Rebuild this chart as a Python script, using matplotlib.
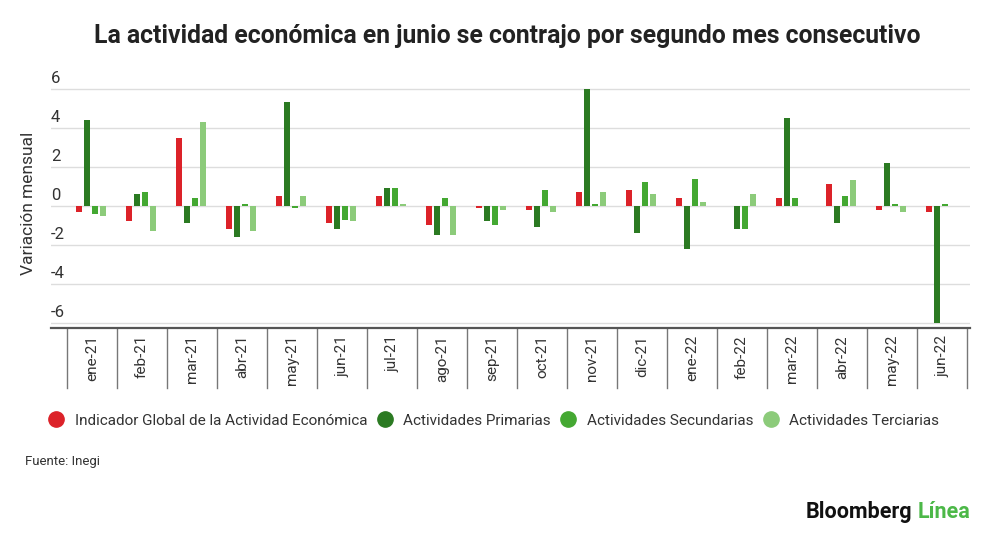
import matplotlib
matplotlib.use("Agg")
import matplotlib.pyplot as plt
import matplotlib.transforms as mtransforms
from matplotlib.lines import Line2D
import numpy as np

plt.rcParams['font.family'] = ['Roboto', 'DejaVu Sans']

months = ["ene-21", "feb-21", "mar-21", "abr-21", "may-21", "jun-21",
          "jul-21", "ago-21", "sep-21", "oct-21", "nov-21", "dic-21",
          "ene-22", "feb-22", "mar-22", "abr-22", "may-22", "jun-22"]

igae = [-0.3, -0.8, 3.5, -1.2, 0.5, -0.9, 0.5, -1.0, -0.1,
        -0.2, 0.7, 0.8, 0.4, 0.0, 0.4, 1.1, -0.2, -0.3]
primarias = [4.4, 0.6, -0.9, -1.6, 5.3, -1.2, 0.9, -1.5, -0.8,
             -1.1, 6.0, -1.4, -2.2, -1.2, 4.5, -0.9, 2.2, -6.0]
secundarias = [-0.4, 0.7, 0.4, 0.1, -0.1, -0.7, 0.9, 0.4, -1.0,
               0.8, 0.1, 1.2, 1.4, -1.2, 0.4, 0.5, 0.1, 0.1]
terciarias = [-0.5, -1.3, 4.3, -1.3, 0.5, -0.8, 0.1, -1.5, -0.2,
              -0.3, 0.7, 0.6, 0.2, 0.6, 0.0, 1.3, -0.3, 0.0]

series_names = ["Indicador Global de la Actividad Económica",
                "Actividades Primarias",
                "Actividades Secundarias",
                "Actividades Terciarias"]
colors = ["#dc2229", "#2b7a22", "#44a832", "#8ccb7a"]
yticks = [-6, -4, -2, 0, 2, 4, 6]

fig = plt.figure(figsize=(10, 5.4), dpi=100)
ax = fig.add_axes([0.051, 0.3926, 0.919, 0.4611])

x = np.arange(len(months))
step = 0.165
width = 0.12
for i, (vals, col) in enumerate(zip([igae, primarias, secundarias, terciarias], colors)):
    ax.bar(x + (i - 1.5) * step - 0.02, vals, width=width, color=col, zorder=3)

ax.set_xlim(-0.82, 17.56)
ax.set_ylim(-6.26, 6.5)

# horizontal grid
for v in yticks:
    ax.axhline(v, color="#dddddd", lw=1, zorder=1)
ax.set_yticks([])
trans_y = mtransforms.blended_transform_factory(ax.transAxes, ax.transData)
for v in yticks:
    ax.text(0.0, v + 0.15, str(v), transform=trans_y, ha="left", va="bottom",
            fontsize=12, color="#333333")

ax.set_ylabel("Variación mensual", fontsize=12.5, color="#333333")
ax.yaxis.set_label_coords(-0.016, 0.5)

for s in ["top", "right", "left"]:
    ax.spines[s].set_visible(False)
ax.spines["bottom"].set_color("#555555")
ax.spines["bottom"].set_linewidth(1.6)

ax.set_xticks(x)
ax.set_xticklabels(months, rotation=90, fontsize=11, color="#333333")
ax.tick_params(axis="x", length=0, pad=5)

# category dividers below the axis
trans_x = mtransforms.blended_transform_factory(ax.transData, ax.transAxes)
for b in np.arange(-0.5, len(months), 1.0):
    ax.plot([b, b], [0, -0.24], transform=trans_x, color="#777777", lw=1,
            clip_on=False)

fig.text(0.507, 0.933, "La actividad económica en junio se contrajo por segundo mes consecutivo",
         ha="center", va="center", fontsize=17.8, fontweight="bold", color="#222222")

handles = [Line2D([], [], marker="o", ls="none", color=c, markersize=11) for c in colors]
fig.legend(handles, series_names, loc="center", bbox_to_anchor=(0.49, 0.221), ncol=4,
           frameon=False, fontsize=11, handletextpad=0.2, columnspacing=0.15,
           labelcolor="#333333")

fig.text(0.025, 0.145, "Fuente: Inegi", fontsize=9.5, color="#333333", va="center")

t2 = fig.text(0.970, 0.052, "Línea", fontsize=15.5, fontweight="bold", color="#4cb848",
              ha="right", va="center")
fig.canvas.draw()
bb = t2.get_window_extent()
fig.text(bb.x0 / fig.bbox.width - 0.005, 0.052, "Bloomberg", fontsize=15.5,
         fontweight="bold", color="#111111", ha="right", va="center")

fig.savefig("out.png", dpi=100)
